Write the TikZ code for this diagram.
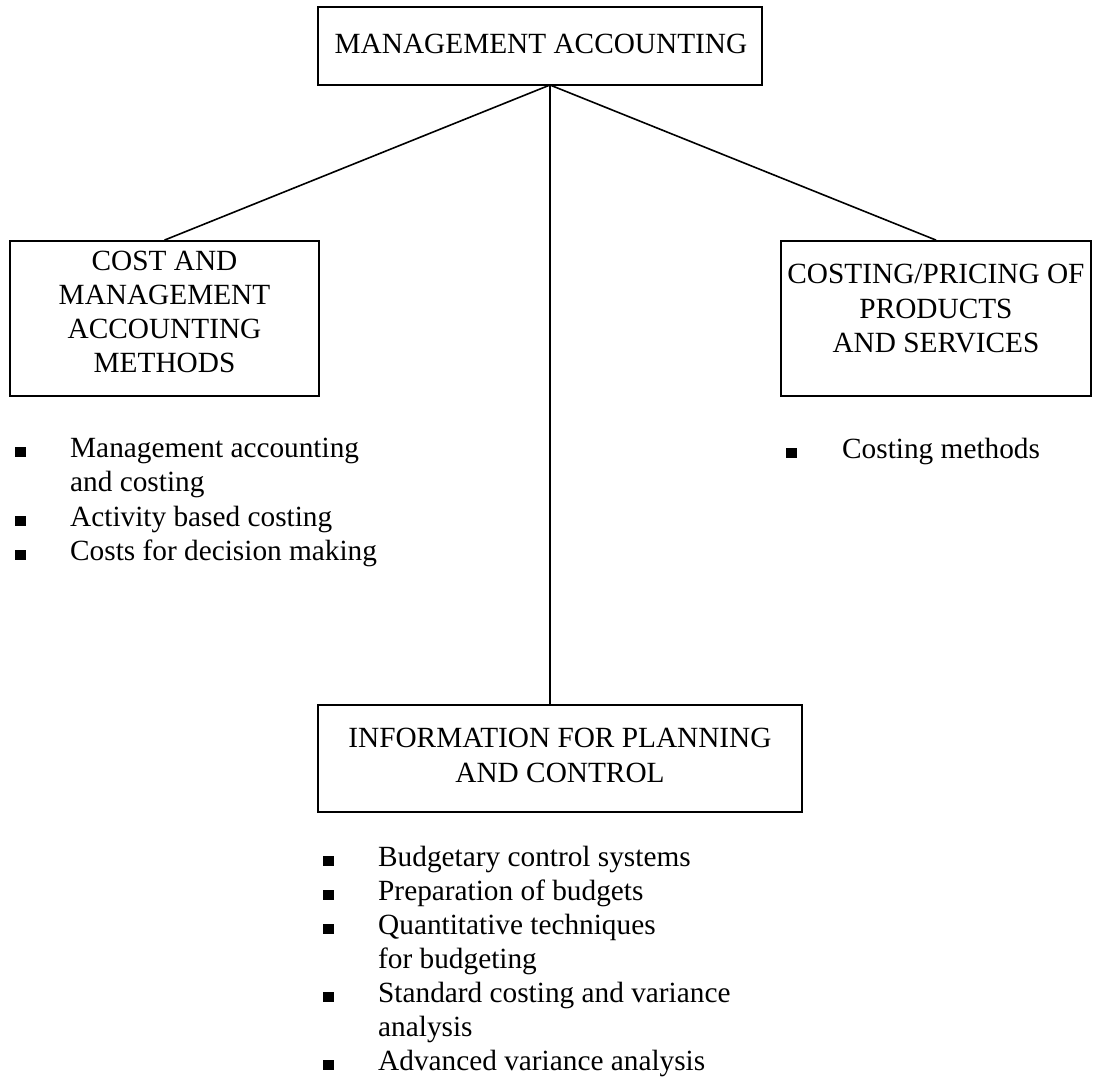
\documentclass[tikz,border=0pt]{standalone}
\usepackage{fontspec}
\setmainfont{Liberation Serif}
\begin{document}
\begin{tikzpicture}[x=1pt,y=-1pt,
  box/.style={draw=black,line width=1.8pt,rectangle,inner sep=0pt},
  lbl/.style={inner sep=0pt,anchor=base,font=\fontsize{29.3}{34.3}\selectfont},
  itm/.style={inner sep=0pt,anchor=base west,font=\fontsize{29.3}{34.3}\selectfont},
  sq/.style={fill=black,draw=none,rectangle,inner sep=0pt,minimum width=11pt,minimum height=10pt,anchor=south west},
  conn/.style={draw=black,line width=1.6pt}]
\useasboundingbox (0,0) rectangle (1096,1079);

% boxes
\node[box,minimum width=444pt,minimum height=78pt] (top) at (540,46) {};
\node[box,minimum width=309pt,minimum height=155pt] (cm) at (164.5,318.5) {};
\node[box,minimum width=310pt,minimum height=155pt] (cp) at (936,318.5) {};
\node[box,minimum width=484pt,minimum height=107pt] (info) at (560,758.5) {};

% box texts
\node[lbl] (t1) at (541,53) {MANAGEMENT ACCOUNTING};
\node[lbl] (c1) at (164.5,270.5) {COST AND};
\node[lbl] (c2) at (164.5,304.5) {MANAGEMENT};
\node[lbl] (c3) at (164.5,338.5) {ACCOUNTING};
\node[lbl] (c4) at (164.5,372.5) {METHODS};
\node[lbl] (p1) at (936,283.5) {COSTING/PRICING OF};
\node[lbl] (p2) at (936,318) {PRODUCTS};
\node[lbl] (p3) at (936,352.5) {AND SERVICES};
\node[lbl] (i1) at (560,747) {INFORMATION FOR PLANNING};
\node[lbl] (i2) at (560,782.5) {AND CONTROL};

% connectors
\coordinate (hub) at (550,85);
\draw[conn] (hub) -- (cm.north);
\draw[conn] (hub) -- (cp.north);
\draw[conn] (hub) -- (hub |- info.north);

% left list
\node[sq] (lb1) at (15,457.5) {};
\node[itm] (l1) at (70,457) {Management accounting};
\node[itm] (l1b) at (70,491.5) {and costing};
\node[sq] (lb2) at (15,526.5) {};
\node[itm] (l2) at (70,526) {Activity based costing};
\node[sq] (lb3) at (15,560.5) {};
\node[itm] (l3) at (70,560) {Costs for decision making};

% right list
\node[sq] (rb1) at (786,458.5) {};
\node[itm] (r1) at (842,458) {Costing methods};

% bottom list
\node[sq] (bb1) at (323,866.5) {};
\node[itm] (b1) at (378,866) {Budgetary control systems};
\node[sq] (bb2) at (323,900.5) {};
\node[itm] (b2) at (378,900) {Preparation of budgets};
\node[sq] (bb3) at (323,934.5) {};
\node[itm] (b3) at (378,934) {Quantitative techniques};
\node[itm] (b3b) at (378,968) {for budgeting};
\node[sq] (bb4) at (323,1002.5) {};
\node[itm] (b4) at (378,1002) {Standard costing and variance};
\node[itm] (b4b) at (378,1036) {analysis};
\node[sq] (bb5) at (323,1070.5) {};
\node[itm] (b5) at (378,1070) {Advanced variance analysis};
\end{tikzpicture}
\end{document}
